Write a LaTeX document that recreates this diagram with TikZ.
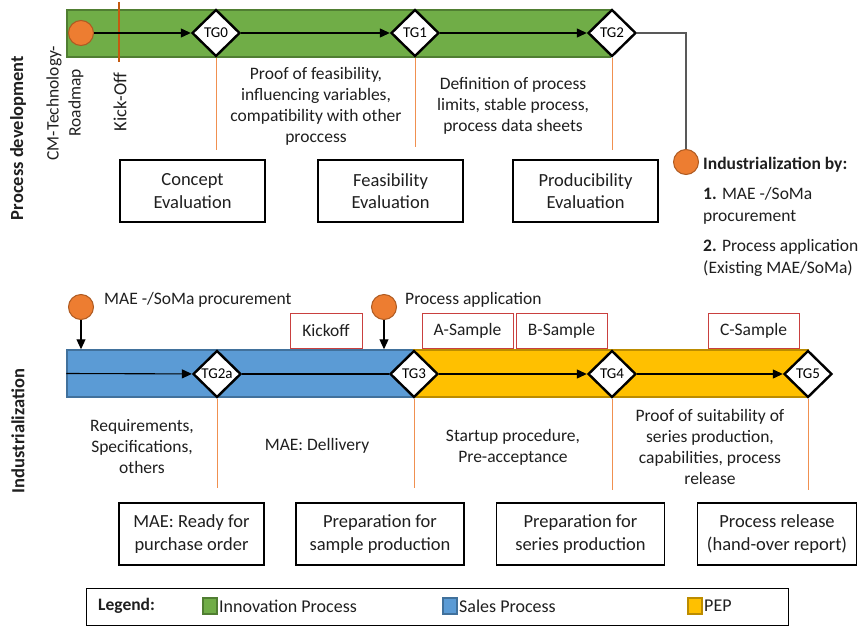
\documentclass[tikz,border=0pt]{standalone}
\usepackage{fontspec}
\setmainfont{Carlito}
\usetikzlibrary{shapes.geometric,arrows.meta}
\definecolor{igreen}{HTML}{70AD47}
\definecolor{igreenD}{HTML}{507E32}
\definecolor{sblue}{HTML}{5B9BD5}
\definecolor{sblueD}{HTML}{41719C}
\definecolor{pyel}{HTML}{FFC000}
\definecolor{pyelD}{HTML}{BC8C00}
\definecolor{ora}{HTML}{ED7D31}
\definecolor{oraD}{HTML}{AE5A21}
\definecolor{kobrown}{HTML}{C55A11}
\definecolor{redb}{HTML}{C9403F}
\definecolor{greyl}{HTML}{595959}
\begin{document}
\begin{tikzpicture}[x=1pt,y=-1pt,
 txt/.style={font=\fontsize{17.5}{21}\selectfont, align=center, inner sep=0pt, text=black!88},
 gate/.style={diamond, draw=black, line width=2.4pt, fill=white, minimum width=48pt, minimum height=47pt, inner sep=0pt, font=\fontsize{15}{16}\selectfont},
 evalbox/.style={draw=black, line width=1.6pt, fill=white, align=center, font=\fontsize{18.5}{22.5}\selectfont, inner sep=0pt, minimum height=62pt, text=black!88},
 redbox/.style={draw=redb, line width=1pt, minimum height=35pt, inner sep=0pt, font=\fontsize{17.5}{18}\selectfont, text=black!88},
 milestone/.style={circle, draw=oraD, fill=ora, line width=1pt, minimum size=25pt, inner sep=0pt},
 lane/.style={draw, line width=2pt, inner sep=0pt, minimum height=47pt},
 flow/.style={draw=black, line width=1.1pt},
 arr/.style={flow, -{Triangle[length=10pt,width=9pt]}},
 tick/.style={draw=ora!85, line width=0.9pt},
 lanelabel/.style={rotate=90, font=\bfseries\fontsize{18.5}{20}\selectfont, inner sep=0pt, text=black!88},
 legsq/.style={draw, line width=1.2pt, minimum width=14pt, minimum height=16pt, inner sep=0pt},
]
\useasboundingbox (0,0) rectangle (858,626);

% ---------------- Process development lane ----------------
\node[lane, draw=igreenD, fill=igreen, minimum width=543pt] (bar1) at (338.5,33.5) {};
\node[lanelabel] (lab1) at (18,138) {Process development};
\node[rotate=90, txt, font=\fontsize{17.5}{22}\selectfont] (cm) at (65,103) {CM-Technology-\\Roadmap};
\coordinate (ko1) at (119,2);
\coordinate (ko2) at (119,62);
\draw[kobrown, line width=1.8pt] (ko1) -- (ko2);
\node[rotate=90, txt, font=\fontsize{18.5}{20}\selectfont] (kotxt) at (120,102) {Kick-Off};

\node[milestone] (s0) at (81,33) {};
\node[gate] (tg0) at (216,33) {TG0};
\node[gate] (tg1) at (415,33) {TG1};
\node[gate] (tg2) at (612,33) {TG2};
\node[milestone] (ind) at (686,162) {};

\draw[arr] (s0) -- (tg0);
\draw[arr] (tg0) -- (tg1);
\draw[arr] (tg1) -- (tg2);
\draw[greyl, line width=1.2pt] (tg2.east) -| (ind.north);

\coordinate (t0) at (216,150);
\coordinate (t1) at (415,147);
\coordinate (t2) at (612,150);
\draw[tick] (tg0.south) -- (t0);
\draw[tick] (tg1.south) -- (t1);
\draw[tick] (tg2.south) -- (t2);

\node[txt] (d1) at (316,106) {Proof of feasibility,\\influencing variables,\\compatibility with other\\proccess};
\node[txt] (d2) at (513,106) {Definition of process\\limits, stable process,\\process data sheets};

\node[evalbox, minimum width=145pt] (e1) at (192.5,191) {Concept\\Evaluation};
\node[evalbox, minimum width=145pt] (e2) at (390.5,191) {Feasibility\\Evaluation};
\node[evalbox, minimum width=145pt] (e3) at (585.5,191) {Producibility\\Evaluation};

\node[txt, align=left, anchor=north west, font=\fontsize{17.5}{22.5}\selectfont] (indtxt) at (703,157)
 {\textbf{Industrialization by:}\\[7pt]\textbf{1.} MAE -/SoMa\\procurement\\[7pt]\textbf{2.} Process application\\(Existing MAE/SoMa)};

% ---------------- Industrialization lane ----------------
\node[lane, draw=sblueD, fill=sblue, minimum width=347pt, line width=1.5pt] (bar2) at (240.5,373.5) {};
\node[lane, draw=pyelD, fill=pyel, minimum width=394pt, line width=1.5pt] (bar3) at (611,373.5) {};
\node[lanelabel] (lab2) at (18,431) {Industrialization};

\node[milestone] (m1) at (81,307) {};
\node[milestone] (m2) at (384,307) {};
\node[txt, anchor=west] (m1txt) at (104,300) {MAE -/SoMa procurement};
\node[txt, anchor=west] (m2txt) at (405,300) {Process application};
\draw[arr] (m1.south) -- (m1.south |- bar2.north);
\draw[arr] (m2.south) -- (m2.south |- bar2.north);

\node[redbox, minimum width=72pt] (kick) at (326,330.5) {Kickoff};
\node[redbox, minimum width=91pt] (sa) at (467.5,330.5) {A-Sample};
\node[redbox, minimum width=91pt] (sb) at (561.5,330.5) {B-Sample};
\node[redbox, minimum width=91pt] (sc) at (753.5,330.5) {C-Sample};

\node[gate] (tg2a) at (217,374) {TG2a};
\node[gate] (tg3) at (414,374) {TG3};
\node[gate] (tg4) at (612,374) {TG4};
\node[gate] (tg5) at (808,374) {TG5};

\draw[arr] (bar2.west) -- (tg2a);
\draw[flow] (tg2a) -- (tg3);
\draw[arr] (tg3) -- (tg4);
\draw[arr] (tg4) -- (tg5);

\coordinate (u0) at (217,488);
\coordinate (u1) at (414,488);
\coordinate (u2) at (612,490);
\coordinate (u3) at (808,490);
\draw[tick] (tg2a.south) -- (u0);
\draw[tick] (tg3.south) -- (u1);
\draw[tick] (tg4.south) -- (u2);
\draw[tick] (tg5.south) -- (u3);

\node[txt] (r1) at (142,447) {Requirements,\\Specifications,\\others};
\node[txt] (r2) at (317,446) {MAE: Dellivery};
\node[txt] (r3) at (513,447) {Startup procedure,\\Pre-acceptance};
\node[txt] (r4) at (710,447) {Proof of suitability of\\series production,\\capabilities, process\\release};

\node[evalbox, minimum width=145pt] (b1) at (191.5,534) {MAE: Ready for\\purchase order};
\node[evalbox, minimum width=168pt] (b2) at (380,534) {Preparation for\\sample production};
\node[evalbox, minimum width=168pt] (b3) at (580.5,534) {Preparation for\\series production};
\node[evalbox, minimum width=159pt] (b4) at (777,534) {Process release\\(hand-over report)};

% ---------------- Legend ----------------
\node[draw=black, line width=1pt, minimum width=702pt, minimum height=37pt, inner sep=0pt] (leg) at (437,606.5) {};
\node[txt, anchor=west, font=\bfseries\fontsize{17.5}{18}\selectfont] (legt) at (98,606) {Legend:};
\node[legsq, draw=igreenD, fill=igreen] (lg1) at (210,606) {};
\node[txt, anchor=west, font=\fontsize{18}{18}\selectfont] (lg1t) at (219,606) {Innovation Process};
\node[legsq, draw=sblueD, fill=sblue] (lg2) at (450,606) {};
\node[txt, anchor=west, font=\fontsize{18}{18}\selectfont] (lg2t) at (459,606) {Sales Process};
\node[legsq, draw=pyelD, fill=pyel] (lg3) at (695,606) {};
\node[txt, anchor=west, font=\fontsize{18}{18}\selectfont] (lg3t) at (704,606) {PEP};
\end{tikzpicture}
\end{document}
